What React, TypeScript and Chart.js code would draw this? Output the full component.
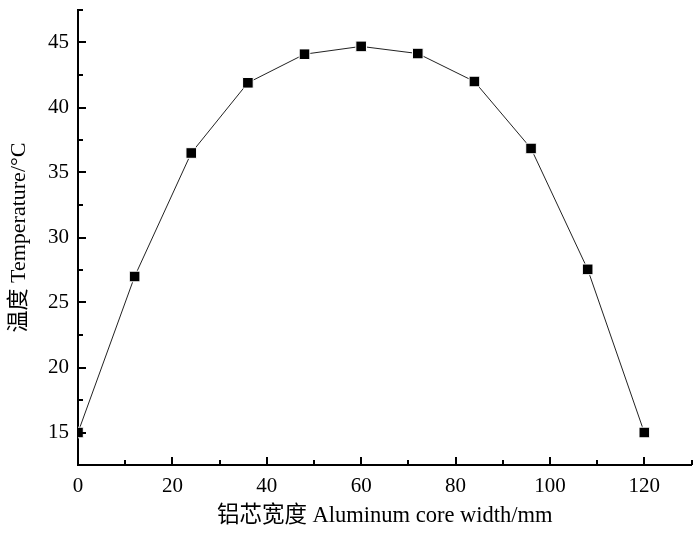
import React, { useEffect, useRef } from "react";
import { Chart, registerables } from "chart.js";

Chart.register(...registerables);

const coreWidths = [0, 12, 24, 36, 48, 60, 72, 84, 96, 108, 120];
const temperatures = [15.0, 27.0, 36.5, 41.9, 44.1, 44.7, 44.15, 42.0, 36.85, 27.55, 15.0];
const xTickValues = [0, 20, 40, 60, 80, 100, 120];
const yTickValues = [15, 20, 25, 30, 35, 40, 45];
const xTitle = "铝芯宽度 Aluminum core width/mm";
const yTitle = "温度 Temperature/°C";

const tickFont = "'Liberation Serif', 'Times New Roman', serif";
const titleFont = "'Liberation Serif', 'Times New Roman', 'Noto Sans CJK SC', serif";

const inwardTicks = {
  id: "inwardTicks",
  afterDraw(chart: any) {
    const { ctx, chartArea } = chart;
    const xs = chart.scales.x;
    const ys = chart.scales.y;
    ctx.save();
    ctx.strokeStyle = "#000";
    ctx.lineWidth = 2;
    ctx.beginPath();
    for (let v = xs.min; v <= xs.max + 1e-9; v += 10) {
      const px = Math.round(xs.getPixelForValue(v));
      const len = Math.abs(v % 20) < 1e-9 ? 8 : 5;
      ctx.moveTo(px, chartArea.bottom);
      ctx.lineTo(px, chartArea.bottom - len);
    }
    for (let v = ys.min; v <= ys.max + 1e-9; v += 2.5) {
      const py = Math.round(ys.getPixelForValue(v));
      const len = Math.abs(v % 5) < 1e-9 ? 8 : 5;
      ctx.moveTo(chartArea.left, py);
      ctx.lineTo(chartArea.left + len, py);
    }
    ctx.stroke();
    ctx.restore();
  },
};

export default function App() {
  const ref = useRef<HTMLCanvasElement | null>(null);

  useEffect(() => {
    if (!ref.current) return;
    const chart = new Chart(ref.current, {
      type: "line",
      data: {
        datasets: [
          {
            data: coreWidths.map((w, i) => ({ x: w, y: temperatures[i] })),
            borderColor: "#222",
            borderWidth: 1,
            pointStyle: "rect",
            pointRadius: 7.5,
            pointBackgroundColor: "#000",
            pointBorderColor: "#fff",
            pointBorderWidth: 1,
            tension: 0,
          },
        ],
      },
      options: {
        animation: false,
        responsive: false,
        layout: { padding: { top: 10, right: 6, left: 0, bottom: 0 } },
        plugins: { legend: { display: false }, tooltip: { enabled: false } },
        scales: {
          x: {
            type: "linear",
            min: 0,
            max: 130,
            afterBuildTicks: (s: any) => {
              s.ticks = xTickValues.map((v) => ({ value: v }));
            },
            afterFit: (s: any) => {
              s.height = 71;
              s.paddingLeft = 0;
              s.paddingRight = 0;
            },
            border: { display: true, color: "#000", width: 2 },
            grid: { display: false, drawTicks: false },
            ticks: {
              padding: 9,
              color: "#000",
              font: { family: tickFont, size: 21 },
              maxRotation: 0,
              autoSkip: false,
            },
            title: {
              display: true,
              text: xTitle,
              color: "#000",
              font: { family: titleFont, size: 22.5 },
              padding: { top: 0, bottom: 6 },
            },
          },
          y: {
            type: "linear",
            min: 12.5,
            max: 47.5,
            afterBuildTicks: (s: any) => {
              s.ticks = yTickValues.map((v) => ({ value: v }));
            },
            afterFit: (s: any) => {
              s.width = 78;
              s.paddingTop = 0;
              s.paddingBottom = 0;
            },
            border: { display: true, color: "#000", width: 2 },
            grid: { display: false, drawTicks: false },
            ticks: {
              padding: 9,
              color: "#000",
              font: { family: tickFont, size: 21 },
              autoSkip: false,
            },
            title: {
              display: true,
              text: yTitle,
              color: "#000",
              font: { family: titleFont, size: 22 },
              padding: { top: 6, bottom: 0 },
            },
          },
        },
      },
      plugins: [inwardTicks],
    });
    return () => chart.destroy();
  }, []);

  return (
    <div style={{ position: "absolute", left: 0, top: 0, width: 700, height: 536, background: "#fff" }}>
      <canvas ref={ref} width={700} height={536} />
    </div>
  );
}
